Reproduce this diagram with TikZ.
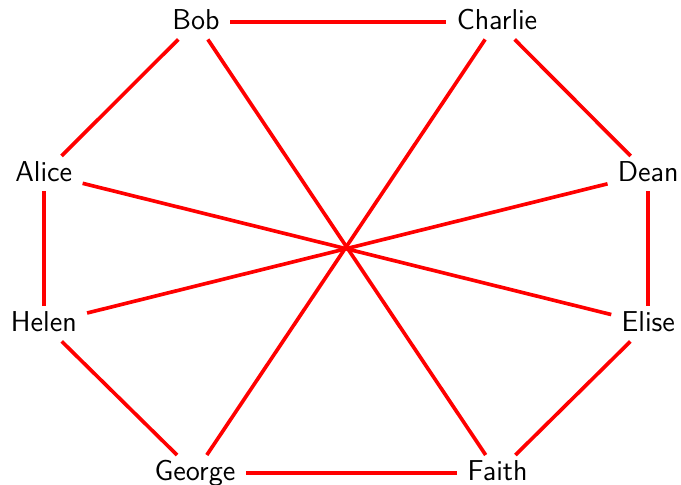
\documentclass[tikz,border=0pt]{standalone}
\begin{document}
\begin{tikzpicture}[x=0.48pt,y=-0.48pt,
  person/.style={font=\sffamily\fontsize{13.8pt}{16pt}\selectfont, inner sep=4.8pt, anchor=base, text height=0.7em, text depth=0pt},
  link/.style={draw=red, line width=1.75pt}]
\useasboundingbox (0,0) rectangle (681,485);
\node[person] (bob) at (196,29) {Bob};
\node[person] (charlie) at (497,29) {Charlie};
\node[person] (dean) at (648.3,181) {Dean};
\node[person] (elise) at (648.3,331) {Elise};
\node[person] (faith) at (497.5,480) {Faith};
\node[person] (george) at (195,480) {George};
\node[person] (helen) at (43.8,331) {Helen};
\node[person] (alice) at (43.8,181) {Alice};
\draw[link] (bob) -- (charlie);
\draw[link] (charlie) -- (dean);
\draw[link] (dean) -- (elise);
\draw[link] (elise) -- (faith);
\draw[link] (faith) -- (george);
\draw[link] (george) -- (helen);
\draw[link] (helen) -- (alice);
\draw[link] (alice) -- (bob);
\draw[link] (bob) -- (faith);
\draw[link] (charlie) -- (george);
\draw[link] (alice) -- (elise);
\draw[link] (dean) -- (helen);
\end{tikzpicture}
\end{document}
